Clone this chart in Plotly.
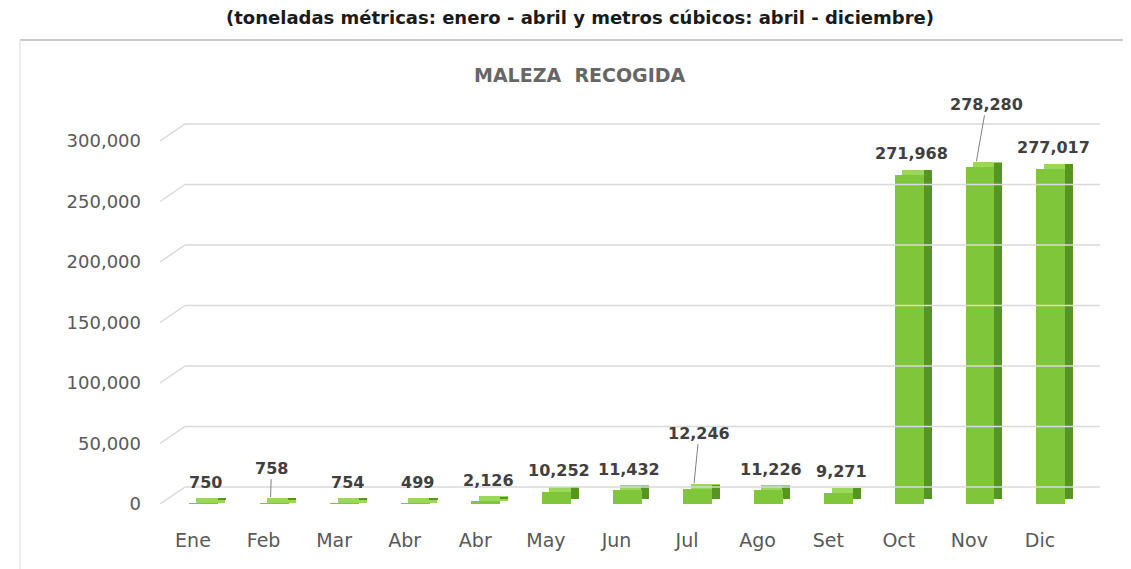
import plotly.graph_objects as go

categories = ["Ene", "Feb", "Mar", "Abr", "Abr", "May", "Jun", "Jul", "Ago", "Set", "Oct", "Nov", "Dic"]
values = [750, 758, 754, 499, 2126, 10252, 11432, 12246, 11226, 9271, 271968, 278280, 277017]
y_ticks = [0, 50000, 100000, 150000, 200000, 250000, 300000]
y_tick_labels = ["0", "50,000", "100,000", "150,000", "200,000", "250,000", "300,000"]

xs = list(range(len(categories)))
DEPTH = 4200  # value-units used for the pseudo 3D depth

FRONT = "#7fc63a"
SIDE = "#569424"
TOP = "#9ad85a"

fig = go.Figure()
# top face
fig.add_trace(go.Bar(x=xs, y=[DEPTH] * len(values), base=values, offset=0.05, width=0.41,
                     marker=dict(color=TOP, line=dict(width=0)), hoverinfo="skip", showlegend=False))
# side face
fig.add_trace(go.Bar(x=xs, y=values, base=[DEPTH * 0.9] * len(values), offset=0.35, width=0.115,
                     marker=dict(color=SIDE, line=dict(width=0)), hoverinfo="skip", showlegend=False))
# front face
fig.add_trace(go.Bar(x=xs, y=values, offset=-0.055, width=0.41,
                     marker=dict(color=FRONT, line=dict(width=0)), showlegend=False,
                     hovertemplate="%{y:,}<extra></extra>"))

shapes = []
# back-wall gridlines with diagonal floor/wall links
for v in y_ticks:
    shapes.append(dict(type="line", xref="paper", yref="y", ysizemode="pixel", yanchor=v,
                       x0=0.0266, x1=1.0, y0=17, y1=17, line=dict(color="#d9d9d9", width=1.5)))
    shapes.append(dict(type="line", xref="paper", yref="y", ysizemode="pixel", yanchor=v,
                       x0=0.0, x1=0.0266, y0=0, y1=17, line=dict(color="#d9d9d9", width=1.5)))
# outer frame lines
shapes.append(dict(type="line", xref="paper", yref="paper", x0=-0.149, x1=1.04, y0=1.1485, y1=1.1485,
                   line=dict(color="#c8c8c8", width=2)))
shapes.append(dict(type="line", xref="paper", yref="paper", x0=-0.149, x1=-0.149, y0=1.1485, y1=-0.2,
                   line=dict(color="#e6e6e6", width=1.5)))

LABEL_FONT = dict(family="DejaVu Sans, Liberation Sans, Arial", size=16, color="#404040")
annotations = []
leaders = {1: (1, -29), 7: (5, -50), 11: (10, -57)}
for i, v in enumerate(values):
    txt = f"<b>{v:,}</b>"
    if i in leaders:
        ax, ay = leaders[i]
        annotations.append(dict(x=xs[i], y=v, xref="x", yref="y", text=txt, showarrow=True,
                                arrowhead=0, arrowwidth=1, arrowcolor="#808080", ax=ax, ay=ay,
                                axref="pixel", ayref="pixel", xshift=7, yshift=6, font=LABEL_FONT))
    else:
        annotations.append(dict(x=xs[i], y=v, xref="x", yref="y", text=txt, showarrow=False,
                                xshift=13, yshift=21, yanchor="middle", font=LABEL_FONT))

annotations.append(dict(x=0.447, y=1.203, xref="paper", yref="paper", showarrow=False,
                        yanchor="middle",
                        text="<b>(toneladas métricas: enero - abril y metros cúbicos: abril - diciembre)</b>",
                        font=dict(family="DejaVu Sans, Liberation Sans, Arial", size=18, color="#1a1a1a")))
annotations.append(dict(x=0.447, y=1.062, xref="paper", yref="paper", showarrow=False,
                        yanchor="middle",
                        text="<b>MALEZA  RECOGIDA</b>",
                        font=dict(family="DejaVu Sans, Liberation Sans, Arial", size=19, color="#666666")))

fig.update_layout(
    width=1123, height=561,
    margin=dict(l=152, r=31, t=92, b=65),
    paper_bgcolor="white", plot_bgcolor="white",
    barmode="overlay",
    bargap=0,
    shapes=shapes,
    annotations=annotations,
    xaxis=dict(range=[-0.467, 12.85], tickmode="array", tickvals=xs, ticktext=categories,
               showgrid=False, zeroline=False, showline=False, ticks="",
               ticklabelstandoff=23,
               tickfont=dict(family="DejaVu Sans, Liberation Sans, Arial", size=19, color="#595959")),
    yaxis=dict(range=[0, 333884], tickmode="array", tickvals=y_ticks, ticktext=y_tick_labels,
               showgrid=False, zeroline=False, showline=False, ticks="",
               ticklabelstandoff=18,
               tickfont=dict(family="DejaVu Sans, Liberation Sans, Arial", size=18, color="#595959")),
)

fig.write_html("out.html")
